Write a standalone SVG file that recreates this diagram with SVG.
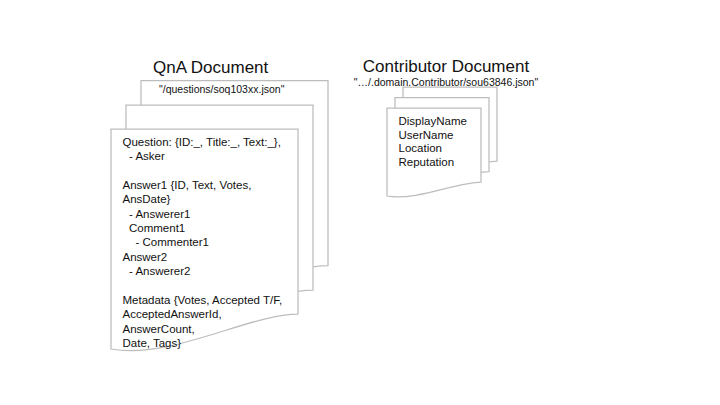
<svg xmlns="http://www.w3.org/2000/svg" xmlns:xlink="http://www.w3.org/1999/xlink" width="720" height="405" viewBox="0 0 720 405">
  <style>
    .page { fill: #ffffff; stroke: #bdbdbd; stroke-width: 1.25; stroke-linejoin: miter; }
    .title { font-family: "Liberation Sans", Arial, sans-serif; font-size: 17px; fill: #111111; }
    .path { font-family: "Liberation Sans", Arial, sans-serif; font-size: 10.5px; fill: #111111; }
    .body { font-family: "Liberation Sans", Arial, sans-serif; font-size: 11.5px; fill: #111111; }
  </style>
  <defs>
    <path id="qnaPage" d="M0,0 H187 V185 C139,185 59,231 0,220 Z"/>
    <path id="contribPage" d="M0,0 H94 V74 C70,74 30,93 0,88 Z"/>
  </defs>
  <rect x="0" y="0" width="720" height="405" fill="#ffffff"/>

  <g id="qna-document">
    <text class="title" x="153" y="73">QnA Document</text>
    <use xlink:href="#qnaPage" class="page" x="141" y="80.5"/>
    <text class="path" x="159" y="93">"/questions/soq103xx.json"</text>
    <use xlink:href="#qnaPage" class="page" x="126" y="105"/>
    <use xlink:href="#qnaPage" class="page" x="111" y="129"/>
    <text class="body">
      <tspan x="122.5" y="145.5">Question: {ID:_, Title:_, Text:_},</tspan>
      <tspan x="129" y="159.9">- Asker</tspan>
      <tspan x="122.5" y="188.7">Answer1 {ID, Text, Votes,</tspan>
      <tspan x="122.5" y="203.1">AnsDate}</tspan>
      <tspan x="129" y="217.5">- Answerer1</tspan>
      <tspan x="129" y="231.9">Comment1</tspan>
      <tspan x="135.5" y="246.3">- Commenter1</tspan>
      <tspan x="122.5" y="260.7">Answer2</tspan>
      <tspan x="129" y="275.1">- Answerer2</tspan>
      <tspan x="122.5" y="303.9">Metadata {Votes, Accepted T/F,</tspan>
      <tspan x="122.5" y="318.3">AcceptedAnswerId,</tspan>
      <tspan x="122.5" y="332.7">AnswerCount,</tspan>
      <tspan x="122.5" y="347.1">Date, Tags}</tspan>
    </text>
  </g>

  <g id="contributor-document">
    <text class="title" x="446" y="72" text-anchor="middle">Contributor Document</text>
    <text class="path" x="446" y="85.5" text-anchor="middle">"…/.domain.Contributor/sou63846.json"</text>
    <use xlink:href="#contribPage" class="page" x="403" y="87"/>
    <use xlink:href="#contribPage" class="page" x="395" y="97.5"/>
    <use xlink:href="#contribPage" class="page" x="387" y="108"/>
    <text class="body">
      <tspan x="398.5" y="125">DisplayName</tspan>
      <tspan x="398.5" y="138.7">UserName</tspan>
      <tspan x="398.5" y="152.4">Location</tspan>
      <tspan x="398.5" y="166">Reputation</tspan>
    </text>
  </g>

  <g id="connectors"></g>
</svg>
